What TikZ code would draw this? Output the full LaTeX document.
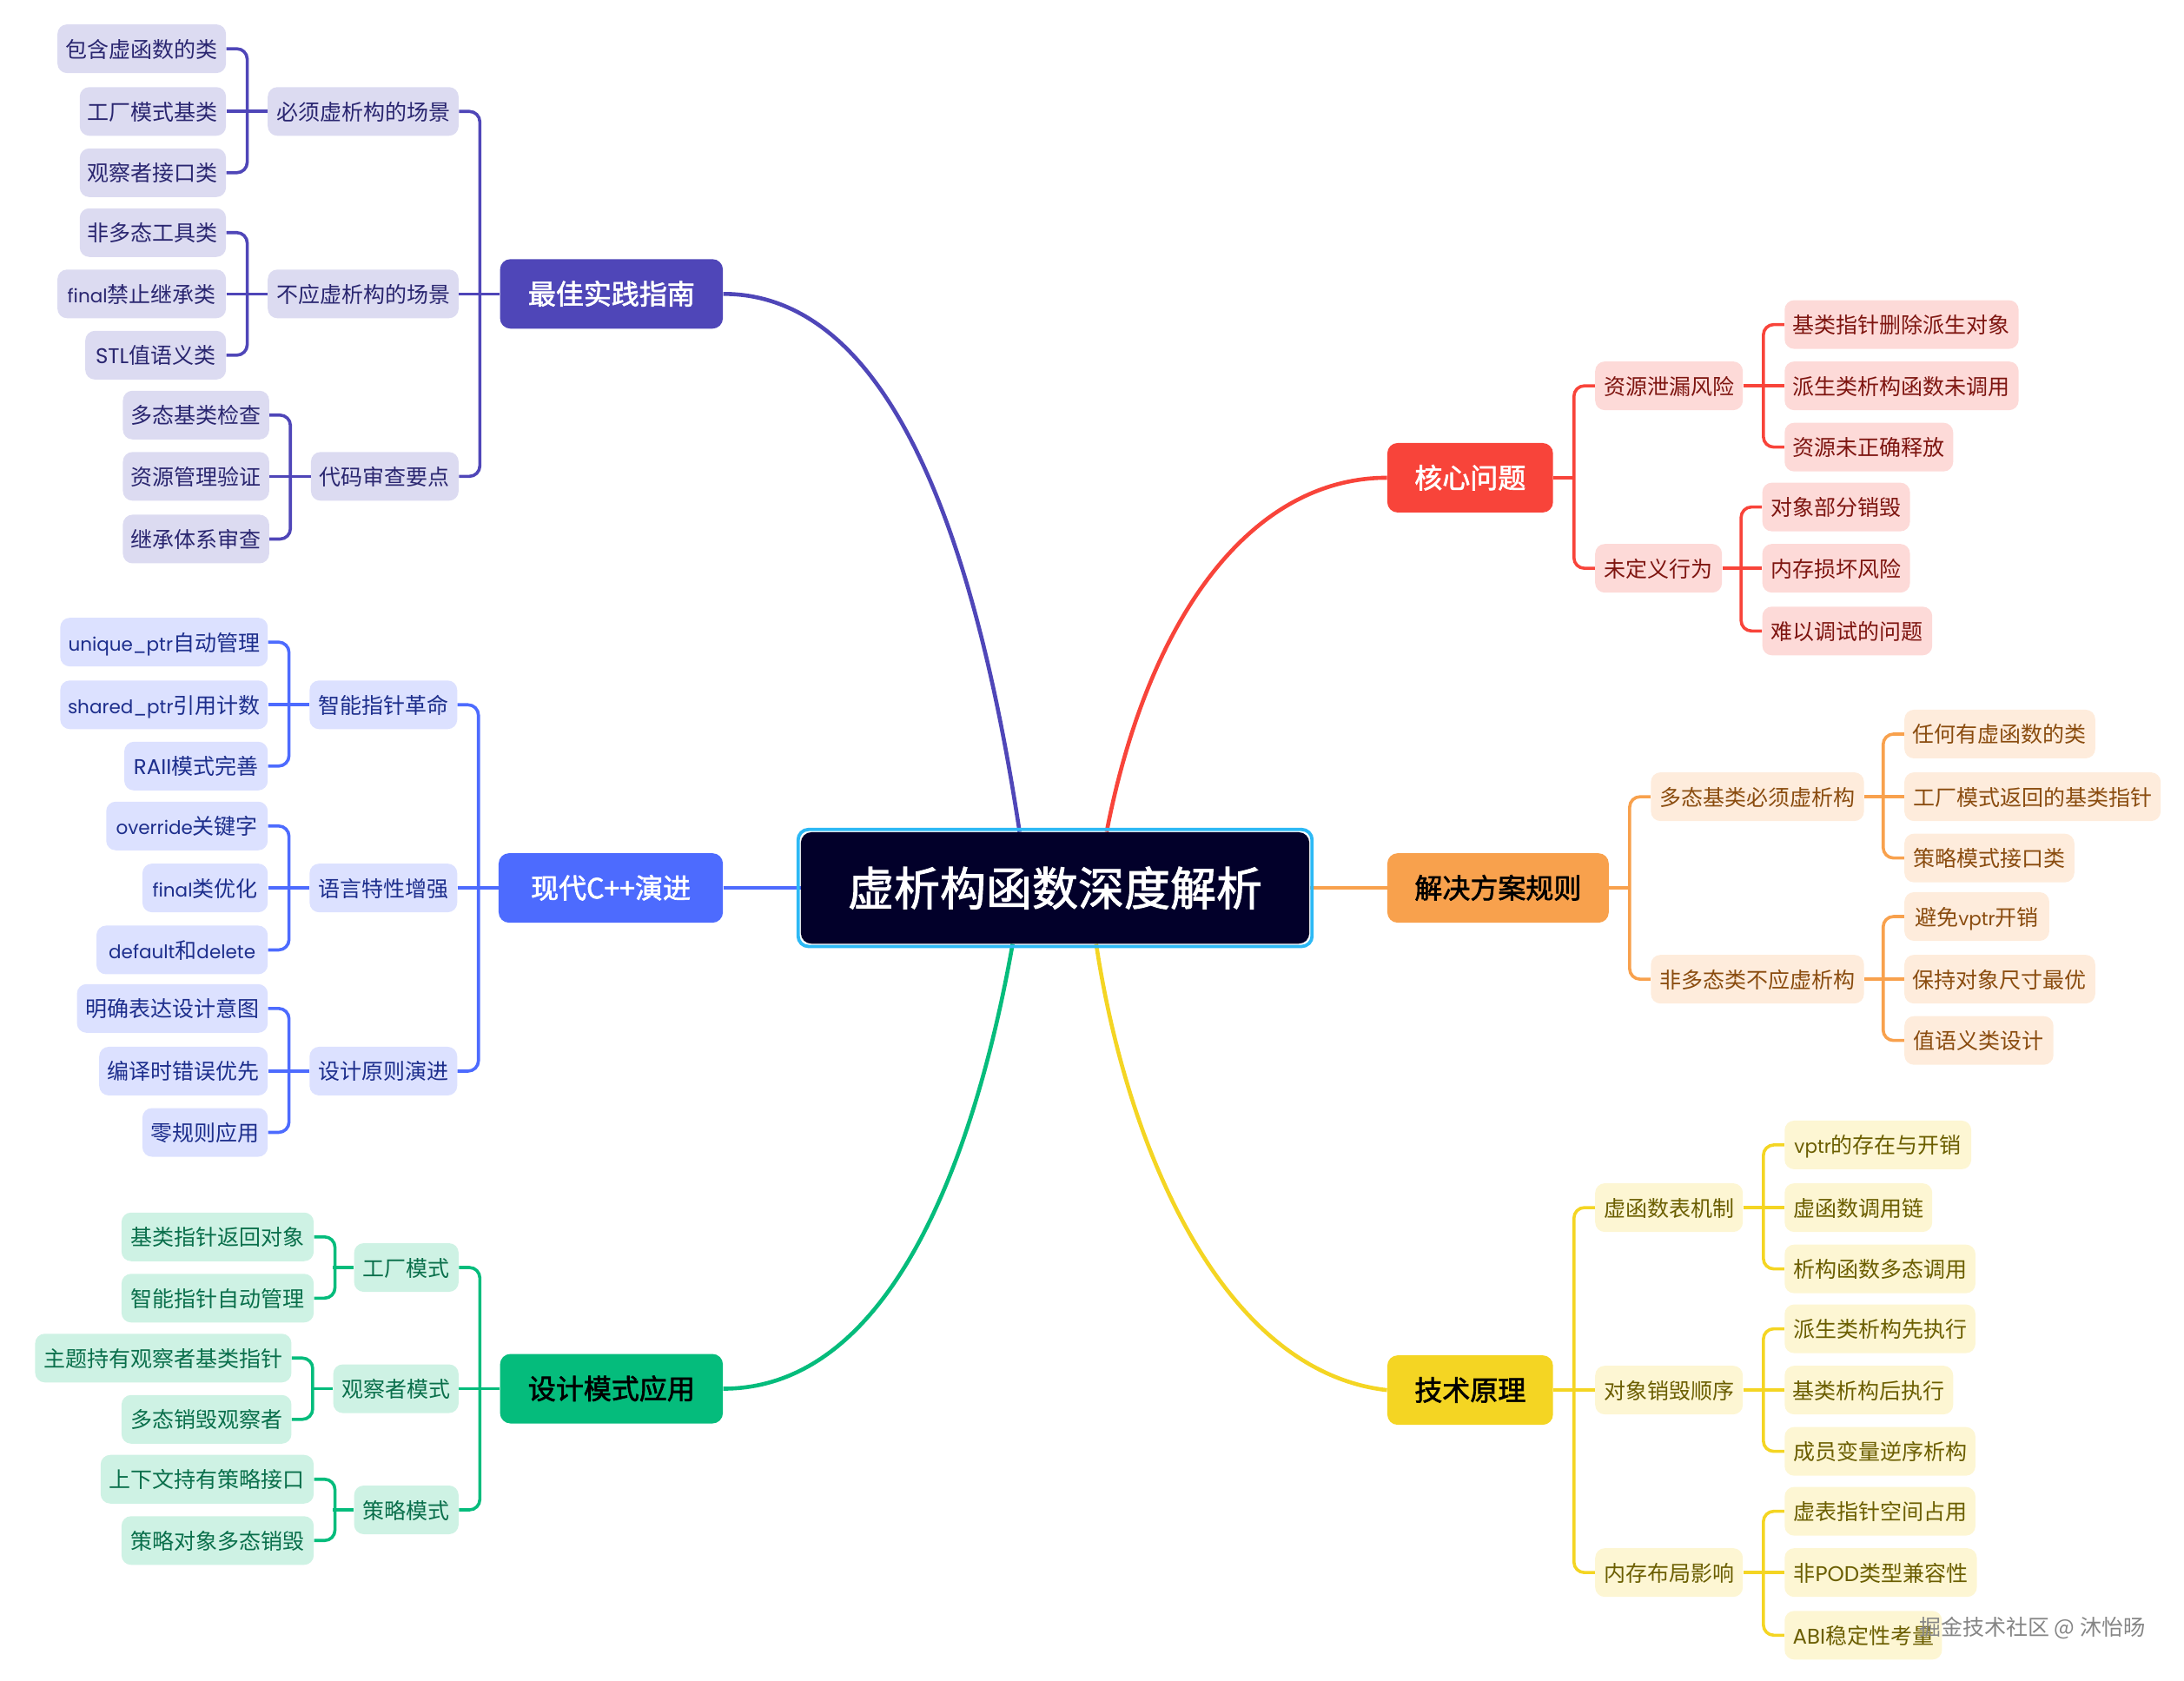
\documentclass[tikz,border=0pt]{standalone}
\usepackage{fontspec}
\usetikzlibrary{calc}
\setmainfont{Noto Sans CJK SC}
\newfontfamily\latf[Scale=0.86]{Poppins}
\newfontfamily\capf[Scale=0.98]{Poppins}
\newcommand\la[1]{{\latf #1}}
\newcommand\lb[1]{{\capf #1}}
% medium-weight look: fill and stroke the glyphs
\newcommand\hv[2]{\special{pdf:code 2 Tr #1 w}#2\special{pdf:code 0 Tr}}
\definecolor{pL}{HTML}{4F46B8}\definecolor{pF}{HTML}{DCDBF1}\definecolor{pT}{HTML}{2A2670}
\definecolor{bL}{HTML}{4D6BFE}\definecolor{bF}{HTML}{DCE1FF}\definecolor{bT}{HTML}{1D2E8C}
\definecolor{gL}{HTML}{05BC7C}\definecolor{gF}{HTML}{CEF2E4}\definecolor{gT}{HTML}{0A6F4B}
\definecolor{rL}{HTML}{F8443A}\definecolor{rF}{HTML}{FDDAD8}\definecolor{rT}{HTML}{7E1510}
\definecolor{oL}{HTML}{F8A14D}\definecolor{oF}{HTML}{FEECDC}\definecolor{oT}{HTML}{8A4C0F}
\definecolor{yL}{HTML}{F4D523}\definecolor{yF}{HTML}{FDF6D3}\definecolor{yT}{HTML}{6B5E00}
\definecolor{rootF}{HTML}{02002A}\definecolor{rootB}{HTML}{2DB9F5}
\pgfdeclarelayer{under}\pgfsetlayers{under,main}
\tikzset{
  leaf/.style={rounded corners=5.5pt,minimum height=28pt,inner sep=0pt,text height=12pt,text depth=2pt,xshift=0.2pt,font=\fontsize{12.5}{15}\selectfont},
  topn/.style={rounded corners=6pt,minimum height=40pt,inner sep=0pt,text height=15pt,text depth=3pt,font=\fontsize{16}{19}\selectfont},
  pn/.style={leaf,fill=pF,text=pT},bn/.style={leaf,fill=bF,text=bT},gn/.style={leaf,fill=gF,text=gT},
  rn/.style={leaf,fill=rF,text=rT},orn/.style={leaf,fill=oF,text=oT},yn/.style={leaf,fill=yF,text=yT},
  link/.style={line width=1.8pt,rounded corners=6pt},
  mainlink/.style={line width=2.3pt},
}
% name, left, right, y, style, text
\newcommand\mm[6]{\node[#5,minimum width={(#3-#2)*0.80165pt}] (#1) at ({(#2+#3)/2},#4) {#6};}
% trees: parent, first child, last child, colour; half gap 15
\newcommand\lgrp[4]{\draw[link,#4] (#2.east) -- ++(15,0) |- (#3.east); \draw[link,#4] (#1.west) -- ++(-15,0);}
\newcommand\rgrp[4]{\draw[link,#4] (#2.west) -- ++(-15,0) |- (#3.west); \draw[link,#4] (#1.east) -- ++(15,0);}
\begin{document}
\begin{tikzpicture}[x=0.80165pt,y=-0.80165pt]
\useasboundingbox (0,0) rectangle (1568,1206.25);
% root
\node[fill=rootF,text=white,rounded corners=6pt,minimum width={365*0.80165pt},minimum height={80*0.80165pt},inner sep=0pt,font=\fontsize{26.5}{30}\selectfont] (root) at (757.5,637.5) {\hv{0.45}{虚析构函数深度解析}};
\node[draw=rootB,line width=1.9pt,rounded corners=6pt,minimum width={369*0.80165pt},minimum height={84*0.80165pt},inner sep=0pt] (rootframe) at (root) {};
\coordinate (rP) at ($(root.north)+(-25.5,0)$);
\coordinate (rR) at ($(root.north)+(37,0)$);
\coordinate (rG) at ($(root.south)+(-30.5,0)$);
\coordinate (rY) at ($(root.south)+(29.5,0)$);
% purple
\mm{pT}{359}{519}{211}{topn,fill=pL,text=white}{\hv{0.3}{最佳实践指南}}
\mm{p1}{192}{329}{80}{pn}{必须虚析构的场景}
\mm{p11}{41}{162}{35}{pn}{包含虚函数的类}
\mm{p12}{57}{162}{80}{pn}{工厂模式基类}
\mm{p13}{57}{162}{124}{pn}{观察者接口类}
\mm{p2}{192}{329}{211}{pn}{不应虚析构的场景}
\mm{p21}{57}{162}{167}{pn}{非多态工具类}
\mm{p22}{41}{162}{211}{pn}{\la{final}禁止继承类}
\mm{p23}{61}{162}{255}{pn}{\lb{STL}值语义类}
\mm{p3}{223}{329}{342}{pn}{代码审查要点}
\mm{p31}{88}{193}{298}{pn}{多态基类检查}
\mm{p32}{88}{193}{342}{pn}{资源管理验证}
\mm{p33}{88}{193}{387}{pn}{继承体系审查}
% blue
\mm{bT}{358}{519}{637.5}{topn,fill=bL,text=white}{\hv{0.3}{现代C++演进}}
\mm{b1}{222}{328}{506}{bn}{智能指针革命}
\mm{b11}{43}{192}{461}{bn}{\la{unique\_ptr}自动管理}
\mm{b12}{43}{192}{506}{bn}{\la{shared\_ptr}引用计数}
\mm{b13}{89}{192}{550}{bn}{\lb{RAII}模式完善}
\mm{b2}{222}{328}{637.5}{bn}{语言特性增强}
\mm{b21}{76}{192}{593}{bn}{\la{override}关键字}
\mm{b22}{102}{192}{637.5}{bn}{\la{final}类优化}
\mm{b23}{69}{192}{682}{bn}{\la{default}和\la{delete}}
\mm{b3}{222}{328}{769}{bn}{设计原则演进}
\mm{b31}{55}{192}{724}{bn}{明确表达设计意图}
\mm{b32}{71}{192}{769}{bn}{编译时错误优先}
\mm{b33}{102}{192}{813}{bn}{零规则应用}
% green
\mm{gT}{359}{519}{997}{topn,fill=gL,text=black}{\hv{0.3}{设计模式应用}}
\mm{g1}{254}{329}{910}{gn}{工厂模式}
\mm{g11}{87}{225}{888}{gn}{基类指针返回对象}
\mm{g12}{87}{225}{932}{gn}{智能指针自动管理}
\mm{g2}{239}{329}{997}{gn}{观察者模式}
\mm{g21}{25}{209}{975}{gn}{主题持有观察者基类指针}
\mm{g22}{87}{209}{1019}{gn}{多态销毁观察者}
\mm{g3}{254}{329}{1084}{gn}{策略模式}
\mm{g31}{72}{225}{1062}{gn}{上下文持有策略接口}
\mm{g32}{87}{225}{1106}{gn}{策略对象多态销毁}
% red
\mm{rT}{996}{1115}{343}{topn,fill=rL,text=white}{\hv{0.3}{核心问题}}
\mm{r1}{1145}{1251}{277}{rn}{资源泄漏风险}
\mm{r11}{1281}{1449}{233}{rn}{基类指针删除派生对象}
\mm{r12}{1281}{1449}{277}{rn}{派生类析构函数未调用}
\mm{r13}{1281}{1402}{321}{rn}{资源未正确释放}
\mm{r2}{1145}{1236}{408}{rn}{未定义行为}
\mm{r21}{1265}{1371}{364}{rn}{对象部分销毁}
\mm{r22}{1265}{1371}{408}{rn}{内存损坏风险}
\mm{r23}{1265}{1387}{453}{rn}{难以调试的问题}
% orange
\mm{oT}{996}{1155}{637.5}{topn,fill=oL,text=black}{\hv{0.3}{解决方案规则}}
\mm{o1}{1185}{1338}{572}{orn}{多态基类必须虚析构}
\mm{o11}{1367}{1504}{527}{orn}{任何有虚函数的类}
\mm{o12}{1367}{1551}{572}{orn}{工厂模式返回的基类指针}
\mm{o13}{1367}{1489}{616}{orn}{策略模式接口类}
\mm{o2}{1185}{1338}{703}{orn}{非多态类不应虚析构}
\mm{o21}{1367}{1471}{658}{orn}{避免\la{vptr}开销}
\mm{o22}{1367}{1504}{703}{orn}{保持对象尺寸最优}
\mm{o23}{1367}{1474}{747}{orn}{值语义类设计}
% yellow
\mm{yT}{996}{1115}{998}{topn,fill=yL,text=black}{\hv{0.3}{技术原理}}
\mm{y1}{1145}{1251}{867}{yn}{虚函数表机制}
\mm{y11}{1281}{1415}{822}{yn}{\la{vptr}的存在与开销}
\mm{y12}{1281}{1387}{867}{yn}{虚函数调用链}
\mm{y13}{1281}{1418}{911}{yn}{析构函数多态调用}
\mm{y2}{1145}{1251}{998}{yn}{对象销毁顺序}
\mm{y21}{1281}{1418}{954}{yn}{派生类析构先执行}
\mm{y22}{1281}{1402}{998}{yn}{基类析构后执行}
\mm{y23}{1281}{1418}{1042}{yn}{成员变量逆序析构}
\mm{y3}{1145}{1251}{1129}{yn}{内存布局影响}
\mm{y31}{1281}{1418}{1085}{yn}{虚表指针空间占用}
\mm{y32}{1281}{1419}{1129}{yn}{非\lb{POD}类型兼容性}
\mm{y33}{1281}{1394}{1174}{yn}{\lb{ABI}稳定性考量}
% watermark
\node[text=black!48,inner sep=0pt,font=\fontsize{12.5}{15}\selectfont] (mark) at (1459,1169) {掘金技术社区 @ 沐怡旸};
\begin{pgfonlayer}{under}
\draw[mainlink,pL] (pT.east) .. controls (650,211) and (705,420) .. (rP);
\draw[mainlink,rL] (rT.west) .. controls (900,343) and (825,440) .. (rR);
\draw[mainlink,gL] (gT.east) .. controls (640,997) and (700,830) .. (rG);
\draw[mainlink,yL] (yT.west) .. controls (880,985) and (810,830) .. (rY);
\draw[mainlink,bL] (bT.east) -- (root.west);
\draw[mainlink,oL] (oT.west) -- (root.east);
\end{pgfonlayer}
% purple links
\lgrp{pT}{p1}{p3}{pL}\draw[link,pL] (p2.east) -- (pT.west);
\lgrp{p1}{p11}{p13}{pL}\draw[link,pL] (p12.east) -- (p1.west);
\lgrp{p2}{p21}{p23}{pL}\draw[link,pL] (p22.east) -- (p2.west);
\lgrp{p3}{p31}{p33}{pL}\draw[link,pL] (p32.east) -- (p3.west);
% blue links
\lgrp{bT}{b1}{b3}{bL}\draw[link,bL] (b2.east) -- (bT.west);
\lgrp{b1}{b11}{b13}{bL}\draw[link,bL] (b12.east) -- (b1.west);
\lgrp{b2}{b21}{b23}{bL}\draw[link,bL] (b22.east) -- (b2.west);
\lgrp{b3}{b31}{b33}{bL}\draw[link,bL] (b32.east) -- (b3.west);
% green links
\lgrp{gT}{g1}{g3}{gL}\draw[link,gL] (g2.east) -- (gT.west);
\lgrp{g1}{g11}{g12}{gL}
\lgrp{g2}{g21}{g22}{gL}
\lgrp{g3}{g31}{g32}{gL}
% red links
\rgrp{rT}{r1}{r2}{rL}
\rgrp{r1}{r11}{r13}{rL}\draw[link,rL] (r12.west) -- (r1.east);
\rgrp{r2}{r21}{r23}{rL}\draw[link,rL] (r22.west) -- (r2.east);
% orange links
\rgrp{oT}{o1}{o2}{oL}
\rgrp{o1}{o11}{o13}{oL}\draw[link,oL] (o12.west) -- (o1.east);
\rgrp{o2}{o21}{o23}{oL}\draw[link,oL] (o22.west) -- (o2.east);
% yellow links
\rgrp{yT}{y1}{y3}{yL}\draw[link,yL] (y2.west) -- (yT.east);
\rgrp{y1}{y11}{y13}{yL}\draw[link,yL] (y12.west) -- (y1.east);
\rgrp{y2}{y21}{y23}{yL}\draw[link,yL] (y22.west) -- (y2.east);
\rgrp{y3}{y31}{y33}{yL}\draw[link,yL] (y32.west) -- (y3.east);
\end{tikzpicture}
\end{document}
